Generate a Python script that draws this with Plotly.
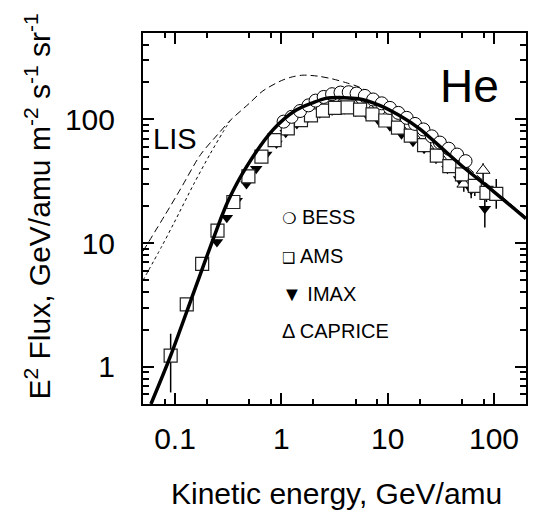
import plotly.graph_objects as go

# ---- data ----
solid_x = [0.0594, 0.091, 0.15, 0.266, 0.318, 0.47, 0.83, 1.38, 2.0, 2.62, 3.9, 5.3, 8.4, 12.8, 20, 30, 50, 100, 200]
solid_y = [0.5, 1.23, 4.0, 15.3, 22.2, 41.3, 82, 119, 137, 148, 150, 147, 130, 108, 84, 62, 42, 26, 15.8]

lis_x = [0.05, 0.082, 0.113, 0.174, 0.25, 0.33, 0.5, 0.67, 1.0, 1.27, 1.6, 2.2, 3.0, 4.0, 5.3, 7.0, 9.0, 12, 20, 30, 50, 100, 200]
lis_y = [8.6, 17.3, 27.5, 52, 75, 98, 135, 170, 206, 221, 228, 224, 213, 199, 184, 163, 145, 124, 92, 68, 45, 27, 16.2]

lis2_x = [0.05, 0.075, 0.098, 0.15, 0.215, 0.28, 0.33]
lis2_y = [5.0, 9.4, 14.6, 30, 53, 78, 98]

bess_x = [1.05, 1.25, 1.5, 1.8, 2.1, 2.5, 3.0, 3.6, 4.3, 5.1, 6.1, 7.3, 8.8, 10.5, 12.6, 15.1, 18.1, 21.7, 26, 31, 37.5, 45, 54]
bess_y = [96, 105, 117, 130, 142, 152, 160, 165, 166, 162, 155, 145, 135, 124, 113, 103, 92, 83, 73, 65, 58, 52, 46]

ams_x = [0.091, 0.129, 0.18, 0.251, 0.354, 0.49, 0.65, 0.865, 1.15, 1.53, 1.9, 2.46, 3.2, 4.2, 5.5, 7.2, 9.5, 12.5, 16.5, 22, 29, 38, 50, 66, 85, 105]
ams_y = [1.23, 3.2, 6.8, 12.6, 21.5, 34.7, 50, 68, 84.6, 98.7, 108, 118, 124, 125, 120, 110, 98, 86, 74, 62, 51, 42, 36, 29, 25.5, 25]
ams_eh = [0.62, 0.15, 0.2, 0.3, 0.5, 0.7, 1, 1, 1, 1, 1, 1, 1, 1, 1, 1, 1, 1, 1, 1, 1, 1.5, 2, 3, 4, 8]
ams_el = [0.61, 0.15, 0.2, 0.3, 0.5, 0.7, 1, 1, 1, 1, 1, 1, 1, 1, 1, 1, 1, 1, 1, 1, 1, 1.5, 2, 3, 4, 6]

imax_x = [0.248, 0.307, 0.38, 0.47, 0.58, 0.72, 0.9, 1.1, 1.4, 1.8, 2.3, 3.0, 3.9, 5.0, 6.4, 8.2, 10.5, 13.5, 17.3, 22, 28.5, 36.5, 47, 61, 82]
imax_y = [10.2, 16, 22, 30, 40, 52, 64, 78, 92, 104, 112, 118, 121, 116, 108, 98, 88, 76, 66, 58, 48, 40, 33, 27, 19]
imax_eh = [0.5, 0.7, 1, 1, 1.5, 2, 2, 2, 2, 2, 2, 2, 2, 2, 2, 2, 2, 2, 2, 2, 2, 3, 3, 4, 4]
imax_el = [0.5, 0.7, 1, 1, 1.5, 2, 2, 2, 2, 2, 2, 2, 2, 2, 2, 2, 2, 2, 2, 2, 2, 3, 3, 4, 5.6]

cap_x = [3.5, 5.0, 7.0, 9.5, 13, 17.5, 23.5, 31, 40, 52, 66, 79]
cap_y = [130, 128, 118, 104, 88, 74, 61, 50, 40, 30, 28, 38.8]
cap_eh = [3, 3, 3, 3, 3, 3, 3, 3, 3, 4, 4, 5.5]
cap_el = [3, 3, 3, 3, 3, 3, 3, 3, 3, 4, 4, 7.6]

x_major = [0.1, 1, 10, 100]
x_major_text = ["0.1", "1", "10", "100"]
x_minor = [0.08, 0.2, 0.5, 0.8, 2, 5, 8, 20, 50, 80, 200]
y_major = [1, 10, 100]
y_major_text = ["1", "10", "100"]
y_minor = [0.5, 0.6, 0.7, 0.8, 0.9, 2, 3, 4, 5, 6, 7, 8, 9,
           20, 30, 40, 50, 60, 70, 80, 90, 200, 300, 400]

legend_glyphs = ["❍", "❑", "▼", "Δ"]
legend_names = ["BESS", "AMS", "IMAX", "CAPRICE"]

FONT = "Liberation Sans, Arial, DejaVu Sans, sans-serif"

fig = go.Figure()

# LIS curves (below the markers)
fig.add_trace(go.Scatter(x=lis_x, y=lis_y, mode="lines",
                         line=dict(color="black", width=1, dash="7px,4px", shape="spline", smoothing=0.8),
                         hoverinfo="skip"))
fig.add_trace(go.Scatter(x=lis2_x, y=lis2_y, mode="lines",
                         line=dict(color="black", width=1, dash="3px,3px", shape="spline", smoothing=0.8),
                         hoverinfo="skip"))

err = dict(type="data", symmetric=False, color="black", thickness=1.5, width=0)

fig.add_trace(go.Scatter(x=cap_x, y=cap_y, mode="markers",
                         marker=dict(symbol="triangle-up", size=12, color="white",
                                     line=dict(color="black", width=1)),
                         error_y=dict(err, array=cap_eh, arrayminus=cap_el)))
fig.add_trace(go.Scatter(x=imax_x, y=imax_y, mode="markers",
                         marker=dict(symbol="triangle-down", size=11, color="black",
                                     line=dict(color="black", width=0)),
                         error_y=dict(err, array=imax_eh, arrayminus=imax_el)))
fig.add_trace(go.Scatter(x=ams_x, y=ams_y, mode="markers",
                         marker=dict(symbol="square", size=13, color="white",
                                     line=dict(color="#222", width=1.2)),
                         error_y=dict(err, array=ams_eh, arrayminus=ams_el)))
fig.add_trace(go.Scatter(x=bess_x, y=bess_y, mode="markers",
                         marker=dict(symbol="circle", size=13, color="white",
                                     line=dict(color="black", width=1))))

# modulated spectrum (on top)
fig.add_trace(go.Scatter(x=solid_x, y=solid_y, mode="lines",
                         line=dict(color="black", width=3.5, shape="spline", smoothing=0.8),
                         hoverinfo="skip"))

# ---- geometry ----
L, R, T, B = 143, 528, 33, 404
W, H = 534, 523


def px(xp):
    return (xp - L) / (R - L)


def py(yp):
    return (B - yp) / (B - T)


axis_common = dict(type="log", showline=True, linecolor="black", linewidth=2, mirror="allticks",
                   ticks="inside", ticklen=11, tickwidth=1.5, tickcolor="black",
                   showgrid=False, zeroline=False,
                   tickfont=dict(family=FONT, size=30, color="black"))

fig.update_layout(
    width=W, height=H,
    margin=dict(l=L, r=W - R, t=T, b=H - B),
    paper_bgcolor="white", plot_bgcolor="white",
    showlegend=False,
    font=dict(family=FONT, color="black"),
    xaxis=dict(axis_common, range=[-1.30103, 2.30103], tickmode="array",
               tickvals=x_major, ticktext=x_major_text, ticklabelstandoff=7,
               minor=dict(tickmode="array", tickvals=x_minor, ticks="inside",
                          ticklen=5, tickwidth=1.5, tickcolor="black", showgrid=False)),
    yaxis=dict(axis_common, range=[-0.30103, 2.69897], tickmode="array",
               tickvals=y_major, ticktext=y_major_text, ticklabelstandoff=20,
               minor=dict(tickmode="array", tickvals=y_minor, ticks="inside",
                          ticklen=6, tickwidth=1.5, tickcolor="black", showgrid=False)),
)

ann = []
ann.append(dict(text="He", x=px(471), y=py(86), xref="paper", yref="paper",
                xanchor="center", yanchor="middle", showarrow=False,
                font=dict(family=FONT, size=46, color="black")))
ann.append(dict(text="LIS", x=px(151), y=py(139), xref="paper", yref="paper",
                xanchor="left", yanchor="middle", showarrow=False,
                font=dict(family=FONT, size=29, color="black")))
glyph_sizes = [16, 15, 20, 20]
for g, gs, name, yy in zip(legend_glyphs, glyph_sizes, legend_names, [217, 256, 294, 331]):
    ann.append(dict(text='<span style="font-size:%dpx">%s</span> %s' % (gs, g, name),
                    x=px(281), y=py(yy), xref="paper", yref="paper",
                    xanchor="left", yanchor="middle", showarrow=False,
                    font=dict(family=FONT, size=20, color="black")))
ann.append(dict(text="Kinetic energy, GeV/amu", x=px(338), y=py(493), xref="paper", yref="paper",
                xanchor="center", yanchor="middle", showarrow=False,
                font=dict(family=FONT, size=30, color="black")))
ann.append(dict(text="E<sup>2</sup> Flux, GeV/amu m<sup>-2</sup> s<sup>-1</sup> sr<sup>-1</sup>",
                x=px(37), y=py(207), xref="paper", yref="paper", textangle=-90,
                xanchor="center", yanchor="middle", showarrow=False,
                font=dict(family=FONT, size=30, color="black")))
fig.update_layout(annotations=ann)

fig.write_html("out.html")
